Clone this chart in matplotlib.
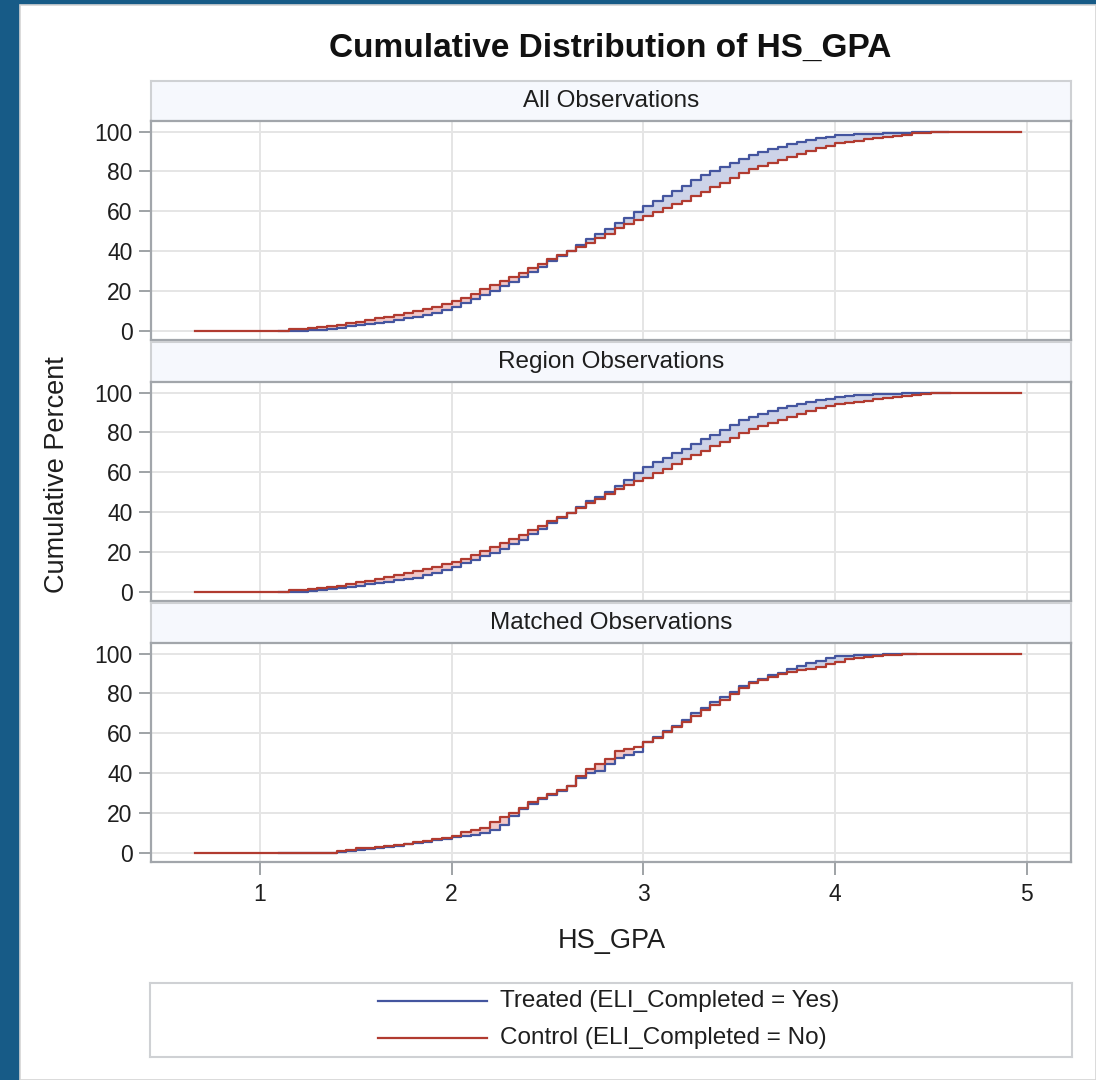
import numpy as np
import matplotlib
matplotlib.use('Agg')
import matplotlib.pyplot as plt
from matplotlib.lines import Line2D
from matplotlib.patches import Rectangle

plt.rcParams['font.family'] = ['Liberation Sans', 'DejaVu Sans']

# ---------------- data ----------------
panel_titles = ["All Observations", "Region Observations", "Matched Observations"]
legend_labels = ["Treated (ELI_Completed = Yes)", "Control (ELI_Completed = No)"]
x_ticks = [1, 2, 3, 4, 5]
y_ticks = [0, 20, 40, 60, 80, 100]

gpa_grid = [1.10, 1.15, 1.20, 1.25, 1.30, 1.35, 1.40, 1.45, 1.50, 1.55,
            1.60, 1.65, 1.70, 1.75, 1.80, 1.85, 1.90, 1.95, 2.00, 2.05,
            2.10, 2.15, 2.20, 2.25, 2.30, 2.35, 2.40, 2.45, 2.50, 2.55,
            2.60, 2.65, 2.70, 2.75, 2.80, 2.85, 2.90, 2.95, 3.00, 3.05,
            3.10, 3.15, 3.20, 3.25, 3.30, 3.35, 3.40, 3.45, 3.50, 3.55,
            3.60, 3.65, 3.70, 3.75, 3.80, 3.85, 3.90, 3.95, 4.00, 4.05,
            4.10, 4.15, 4.20, 4.25, 4.30, 4.35, 4.40, 4.45, 4.50, 4.55,
            4.60]

all_treated = [0, 0, 0, 0.3, 0.5, 1.0, 1.5, 2.2, 2.7, 3.3,
               4.0, 4.6, 5.4, 6.2, 7.0, 8.0, 9.2, 10.6, 12.0, 13.8,
               15.8, 18.0, 20.2, 22.4, 24.6, 26.8, 29.3, 32.0, 35.0, 37.7,
               40.3, 43.0, 46.0, 48.5, 51.0, 54.0, 56.5, 59.5, 62.5, 65.0,
               67.5, 70.0, 72.7, 75.5, 78.0, 80.3, 82.3, 84.3, 86.2, 88.0,
               89.5, 91.0, 92.5, 93.8, 94.8, 95.8, 96.7, 97.5, 98.2, 98.4,
               98.6, 98.8, 99.0, 99.2, 99.3, 99.4, 99.6, 99.8, 99.8, 100,
               100]
all_control = [0, 0.7, 0.9, 1.2, 1.7, 2.3, 3.0, 3.8, 4.6, 5.4,
               6.3, 7.1, 8.0, 8.9, 10.0, 11.0, 12.2, 13.4, 14.8, 16.6,
               18.6, 20.8, 22.8, 24.8, 26.9, 29.0, 31.3, 33.6, 35.9, 38.0,
               40.1, 42.1, 44.3, 46.5, 48.8, 51.5, 53.5, 55.6, 57.7, 59.5,
               61.5, 63.5, 65.3, 67.5, 69.7, 72.0, 74.2, 76.5, 79.0, 81.2,
               82.7, 84.2, 85.7, 87.2, 88.7, 90.2, 91.7, 93.0, 94.3, 94.9,
               95.5, 96.1, 96.7, 97.2, 97.8, 98.3, 99.2, 99.5, 99.6, 99.8,
               100]
region_treated = [0, 0, 0, 0.3, 0.8, 1.3, 1.9, 2.5, 3.1, 3.8,
                  4.4, 5.0, 5.7, 6.4, 7.1, 8.2, 9.5, 11.0, 12.5, 14.3,
                  16.2, 18.0, 19.7, 21.6, 23.8, 26.2, 28.8, 31.6, 34.5, 37.2,
                  39.8, 42.5, 45.5, 47.8, 50.3, 53.0, 56.2, 59.6, 62.8, 65.0,
                  67.2, 69.5, 71.8, 74.2, 76.6, 78.8, 81.0, 83.5, 86.0, 87.8,
                  89.3, 90.8, 92.2, 93.4, 94.4, 95.3, 96.2, 97.0, 97.8, 98.3,
                  98.8, 99.0, 99.2, 99.3, 99.5, 99.6, 99.8, 99.8, 99.9, 100,
                  100]
region_control = [0, 0.8, 1.0, 1.3, 1.7, 2.4, 3.1, 3.9, 4.7, 5.6,
                  6.5, 7.4, 8.3, 9.3, 10.4, 11.5, 12.6, 13.8, 15.0, 16.7,
                  18.6, 20.5, 22.5, 24.5, 26.6, 28.7, 30.9, 33.1, 35.4, 37.6,
                  39.8, 42.0, 44.4, 46.8, 49.2, 51.8, 53.6, 55.4, 57.2, 59.4,
                  61.8, 64.3, 66.6, 68.8, 70.9, 73.0, 75.0, 77.2, 79.5, 81.5,
                  83.1, 84.7, 86.3, 87.9, 89.4, 90.9, 92.2, 93.3, 94.2, 94.8,
                  95.4, 96.0, 96.7, 97.4, 98.0, 98.5, 99.0, 99.3, 99.6, 99.8,
                  100]
matched_treated = [0, 0, 0, 0, 0, 0, 0.3, 0.8, 1.3, 1.8,
                   2.4, 2.9, 3.5, 4.2, 4.9, 5.6, 6.3, 7.0, 7.7, 8.5,
                   9.2, 9.8, 11.5, 13.8, 18.5, 21.8, 24.5, 26.8, 28.8, 31.0,
                   33.5, 37.5, 40.3, 41.3, 44.5, 47.5, 49.0, 50.5, 55.5, 58.2,
                   61.0, 63.8, 66.8, 70.0, 72.8, 75.8, 78.3, 80.8, 83.5, 85.5,
                   87.3, 89.0, 90.3, 92.5, 94.0, 95.3, 96.5, 97.8, 98.8, 99.0,
                   99.3, 99.4, 99.5, 99.6, 99.7, 99.8, 100, 100, 100, 100,
                   100]
matched_control = [0, 0, 0, 0, 0, 0, 1.0, 1.5, 2.2, 2.6,
                    3.0, 3.4, 4.0, 4.6, 5.2, 6.0, 6.8, 7.6, 8.3, 10.5,
                    11.5, 12.5, 15.5, 17.8, 20.0, 22.5, 25.3, 27.5, 29.5, 31.5,
                    33.5, 38.5, 42.0, 44.5, 47.0, 51.0, 52.3, 53.3, 55.5, 57.8,
                    60.5, 63.0, 65.8, 68.8, 71.7, 74.2, 76.8, 79.5, 82.5, 85.0,
                    86.5, 88.0, 89.5, 90.5, 91.5, 92.5, 93.3, 94.8, 96.0, 97.2,
                    97.8, 98.5, 99.0, 99.2, 99.4, 99.6, 99.8, 100, 100, 100,
                    100]

treated_max_gpa = [4.59, 4.60, 4.42]   # last treated observation per panel
control_min_gpa = 0.66
control_max_gpa = 4.97

treated_series = [all_treated, region_treated, matched_treated]
control_series = [all_control, region_control, matched_control]

# ---------------- styling ----------------
W, H = 1096, 1080
BLUE = '#44559f'
RED = '#b13b30'
BLUE_FILL = '#cdd3e8'
RED_FILL = '#f2c8c8'
FRAME = '#a2a6ab'
GRID = '#e5e5e5'
TXT = '#1e1e1e'


def fx(px):
    return px / W


def fy(py):
    return 1 - py / H


fig = plt.figure(figsize=(W / 100, H / 100), dpi=100)
fig.patch.set_facecolor('#175b87')
fig.add_artist(Rectangle((fx(20), 0), (W - 20) / W, (H - 5) / H,
                         transform=fig.transFigure, facecolor='white',
                         edgecolor='#d4d4d4', lw=1.2, zorder=0))

left_px, right_px = 150.5, 1071
plot_h = 219
hdr_h = 40

g = np.array(gpa_grid)
for i in range(3):
    top_px = 121 + i * 261
    bot_px = top_px + plot_h
    # header strip
    hax = fig.add_axes([fx(left_px), fy(top_px), (right_px - left_px) / W, hdr_h / H])
    hax.set_facecolor('#f6f8fd')
    hax.set_xticks([]); hax.set_yticks([])
    for s in hax.spines.values():
        s.set_color('#cfd1d4'); s.set_linewidth(1.5)
    hax.text(0.5, 0.5, panel_titles[i], ha='center', va='center', fontsize=17.5,
             color=TXT, transform=hax.transAxes)

    ax = fig.add_axes([fx(left_px), fy(bot_px), (right_px - left_px) / W, plot_h / H])
    t = np.array(treated_series[i], dtype=float)
    c = np.array(control_series[i], dtype=float)

    ax.fill_between(g, t, c, where=t >= c, step='post', facecolor=BLUE_FILL,
                    lw=0, zorder=1)
    ax.fill_between(g, t, c, where=c > t, step='post', facecolor=RED_FILL,
                    lw=0, zorder=1)

    tmask = g < treated_max_gpa[i]
    tx = np.concatenate([g[tmask], [treated_max_gpa[i]]])
    ty = np.concatenate([t[tmask], [100]])
    ax.plot(tx, ty, drawstyle='steps-post', color=BLUE, lw=1.6, zorder=3)

    cx = np.concatenate([[control_min_gpa], g, [control_max_gpa]])
    cy = np.concatenate([[0], c, [100]])
    ax.plot(cx, cy, drawstyle='steps-post', color=RED, lw=1.6, zorder=4)

    ax.set_xlim(0.43, 5.23)
    ax.set_ylim(-4.6, 105.3)
    ax.set_xticks(x_ticks)
    ax.set_yticks(y_ticks)
    ax.grid(True, color=GRID, lw=1.4)
    ax.set_axisbelow(True)
    for s in ax.spines.values():
        s.set_color(FRAME); s.set_linewidth(1.6)
    ax.tick_params(axis='y', length=9, width=1.2, color='#8f9397', pad=4,
                   labelsize=16.5, labelcolor=TXT)
    if i < 2:
        ax.tick_params(axis='x', length=0, labelbottom=False)
    else:
        ax.tick_params(axis='x', length=9, width=1.2, color='#8f9397', pad=6,
                       labelsize=16.5, labelcolor=TXT)

fig.text(fx(610), fy(48), "Cumulative Distribution of HS_GPA", ha='center',
         va='center', fontsize=24, fontweight='bold', color='#111111')
fig.text(fx(612), fy(941), "HS_GPA", ha='center', va='center', fontsize=19.5,
         color=TXT)
fig.text(fx(57), fy(475), "Cumulative Percent", ha='center', va='center',
         fontsize=19.5, rotation=90, color=TXT)

# legend box
lax = fig.add_axes([fx(150), fy(1057), (1072 - 150) / W, (1057 - 983) / H])
lax.set_xlim(150, 1072)
lax.set_ylim(1057, 983)
lax.set_xticks([]); lax.set_yticks([])
for s in lax.spines.values():
    s.set_color('#cfd1d4'); s.set_linewidth(1.5)
for k, (col, lab) in enumerate(zip([BLUE, RED], legend_labels)):
    yy = 1001 + k * 37
    lax.add_line(Line2D([378, 487], [yy, yy], color=col, lw=1.6))
    lax.text(500, yy, lab, ha='left', va='center', fontsize=17.5, color=TXT)

fig.savefig('out.png', dpi=100, facecolor=fig.get_facecolor())
